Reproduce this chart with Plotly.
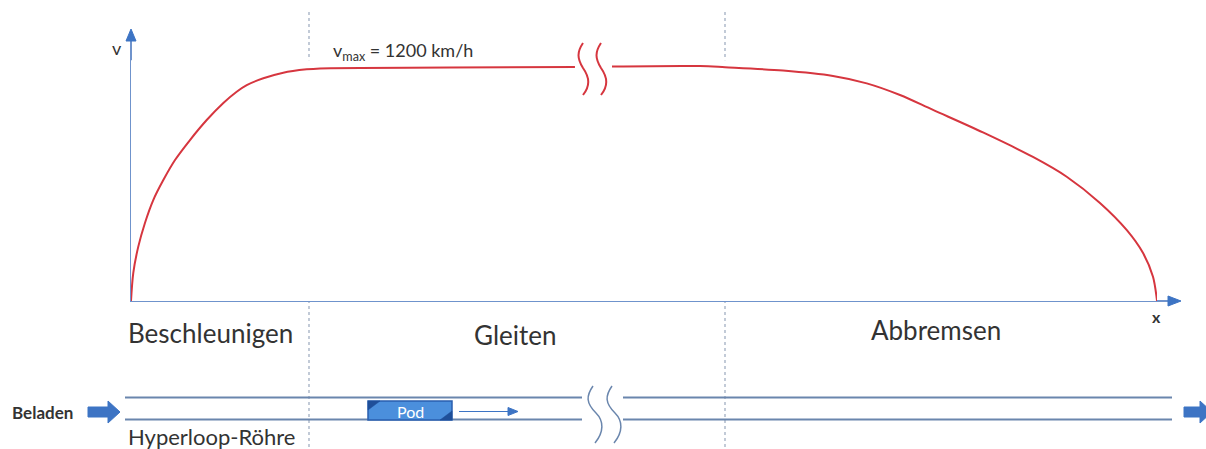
import plotly.graph_objects as go

# ---- data (distance in % of route, speed in km/h) ----
dist_accel_glide = [0, 0.22, 0.71, 1.36, 2.17, 3.15, 4.29, 5.75, 7.38, 9.0, 10.3, 11.28, 12.9, 14.84, 17.12, 18.42, 31.09, 43.27]
speed_accel_glide = [0, 144, 280, 402, 520, 623, 726, 829, 932, 1020, 1078, 1112, 1147, 1176, 1193, 1198, 1202, 1205]
dist_glide_brake = [46.88, 55.46, 57.9, 63.55, 68.42, 71.71, 74.95, 78.17, 83.04, 87.91, 91.2, 94.44, 97.04, 98.64, 99.61, 99.97, 100]
speed_glide_brake = [1208, 1210, 1204, 1187, 1159, 1121, 1061, 984, 868, 742, 640, 505, 366, 247, 125, 15, 0]
phase_labels = ["Beschleunigen", "Gleiten", "Abbremsen"]
vmax_label = "v<sub>max</sub> = 1200 km/h"

RED = "#d6363f"
BLUE = "#3d74c4"
AXIS = "#6f93cc"
TUBE = "#6a86ad"
DOT = "#9aa8bd"
TXT = "#333333"
FONT = "Lato"

fig = go.Figure()

for xs, ys in ((dist_accel_glide, speed_accel_glide), (dist_glide_brake, speed_glide_brake)):
    fig.add_trace(go.Scatter(x=xs, y=ys, mode="lines",
                             line=dict(color=RED, width=2, shape="spline", smoothing=0.9),
                             xaxis="x2", yaxis="y2", showlegend=False, hoverinfo="skip",
                             cliponaxis=False))

shapes = []
def line(x0, y0, x1, y1, color, width=1.5, dash="solid"):
    shapes.append(dict(type="line", xref="x", yref="y", x0=x0, y0=y0, x1=x1, y1=y1,
                       line=dict(color=color, width=width, dash=dash), layer="below"))
def path(d, color, width=1.5, fill=None):
    s = dict(type="path", xref="x", yref="y", path=d, line=dict(color=color, width=width))
    if fill:
        s["fillcolor"] = fill
    shapes.append(s)

# dotted phase separators
line(309, 12, 309, 449, DOT, 1.2, "dot")
line(725, 12, 725, 449, DOT, 1.2, "dot")

# axes
line(131, 302, 131, 40, AXIS, 2)
path("M 126 41 L 136 41 L 131 29 Z", BLUE, 1, BLUE)
line(130, 301, 1170, 301, AXIS, 2)
path("M 1168 296 L 1168 306 L 1181 301 Z", BLUE, 1, BLUE)

# break in curve
path("M 583 43 C 577 52, 577 58, 583 68 C 590 78, 590 86, 583 95", RED, 2)
path("M 601 43 C 595 52, 595 58, 601 68 C 608 78, 608 86, 601 95", RED, 2)

# tube
line(125, 397.5, 582, 397.5, TUBE, 2)
line(125, 419.5, 582, 419.5, TUBE, 2)
line(623, 397.5, 1172, 397.5, TUBE, 2)
line(623, 419.5, 1172, 419.5, TUBE, 2)
path("M 593 386 C 586 396, 586 403, 596 413 C 604 421, 604 432, 595 443", TUBE, 1.5)
path("M 612 386 C 605 396, 605 403, 615 413 C 623 421, 623 432, 614 443", TUBE, 1.5)

# loading arrow left
path("M 88 407 L 108 407 L 108 401 L 120 412 L 108 423 L 108 417 L 88 417 Z", BLUE, 1, BLUE)
# exit arrow right
path("M 1184 407 L 1200 407 L 1200 401 L 1212 412 L 1200 423 L 1200 417 L 1184 417 Z", BLUE, 1, BLUE)

# pod
shapes.append(dict(type="rect", xref="x", yref="y", x0=368, y0=401, x1=452, y1=420,
                   line=dict(color="#2a5fae", width=1.5), fillcolor="#4b8fdc"))
path("M 368 401 L 380 401 L 368 410 Z", "#1f4f99", 0.5, "#1f4f99")
path("M 452 420 L 440 420 L 452 411 Z", "#1f4f99", 0.5, "#1f4f99")
# motion arrow
line(459, 411.5, 510, 411.5, BLUE, 1.2)
path("M 508 407.5 L 508 415.5 L 518 411.5 Z", BLUE, 1, BLUE)

annotations = []
def text(x, y, t, size, color=TXT, xanchor="center", bold=False):
    annotations.append(dict(x=x, y=y, xref="x", yref="y", text=(f"<b>{t}</b>" if bold else t),
                            showarrow=False, xanchor=xanchor, yanchor="middle",
                            font=dict(family=FONT, size=size, color=color)))

text(117, 48, "v", 18)
text(1156, 316, "x", 16, bold=True)
text(331, 51, vmax_label, 18, xanchor="left")
text(210, 333, phase_labels[0], 26)
text(515, 335, phase_labels[1], 26)
text(936, 330, phase_labels[2], 26)
text(10, 412, "Beladen", 17, xanchor="left", bold=True)
text(126, 436, "Hyperloop-Röhre", 22, xanchor="left")
text(410, 411, "Pod", 16, color="white")

fig.update_layout(
    width=1206, height=449,
    margin=dict(l=0, r=0, t=0, b=0),
    paper_bgcolor="white", plot_bgcolor="white",
    xaxis=dict(range=[0, 1206], domain=[0, 1], visible=False, fixedrange=True),
    yaxis=dict(range=[449, 0], domain=[0, 1], visible=False, fixedrange=True),
    xaxis2=dict(range=[0, 100], domain=[131 / 1206, 1157 / 1206], anchor="y2", visible=False),
    yaxis2=dict(range=[0, 1240], domain=[(449 - 301) / 449, (449 - 60.23) / 449], anchor="x2", visible=False),
    shapes=shapes,
    annotations=annotations,
    showlegend=False,
)

fig.write_html("out.html", config={"displayModeBar": False},
               post_script="document.body.style.margin='0px';document.body.style.overflow='hidden';")
